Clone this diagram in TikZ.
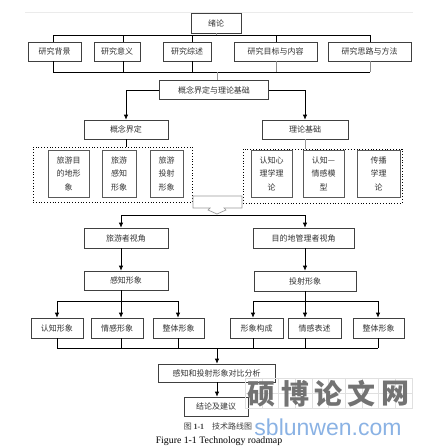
\documentclass[tikz,border=0pt]{standalone}
\usepackage{fontspec}
\setmainfont{Liberation Serif}
\newfontfamily\cjk{Noto Sans CJK SC}
\newfontfamily\wmsans{Liberation Sans}
\usetikzlibrary{arrows.meta}
\definecolor{wmblue}{RGB}{138,178,228}
\begin{document}
\begin{tikzpicture}[x=1pt,y=-1pt]
  \tikzstyle{box}=[draw=black!75,line width=0.7pt,inner sep=0pt,minimum height=19,text=black!80,font=\cjk\fontsize{8}{10}\selectfont]
  \tikzstyle{inbox}=[box,draw=black!65,align=center,minimum height=47,font=\cjk\fontsize{8}{13.5}\selectfont]
  \tikzstyle{frame}=[draw,dotted,thick,inner sep=0pt]
  \tikzstyle{line}=[draw,line width=0.7pt]
  \tikzstyle{faint}=[draw=black!40]
  \tikzstyle{arr}=[line,-{Latex[length=5pt,width=4.5pt]}]
  \useasboundingbox (0,0) rectangle (430,448);
  \draw[black!8,line width=1pt] (25,12) -- (413,12);

  % top part
  \node[box,minimum width=50,minimum height=20] (xl) at (216,23) {绪论};
  \node[box,minimum width=53] (bj) at (54.5,51.5) {研究背景};
  \node[box,minimum width=46] (yy) at (117,51.5) {研究意义};
  \node[box,minimum width=48] (zs) at (187,51.5) {研究综述};
  \node[box,minimum width=83] (mb) at (275.5,51.5) {研究目标与内容};
  \node[box,minimum width=83] (sl) at (369.5,51.5) {研究思路与方法};
  \node[box,minimum width=109] (gl) at (214,90) {概念界定与理论基础};
  \node[box,minimum width=84] (gn) at (126,129.5) {概念界定};
  \node[box,minimum width=86] (ll) at (305,129.5) {理论基础};

  % dotted groups
  \node[frame,minimum width=159,minimum height=55] (dl) at (112.5,174.5) {};
  \node[frame,minimum width=159,minimum height=54] (dr) at (322.5,176) {};
  \node[inbox,minimum width=41] (t1) at (68.5,173.5) {旅游目\\的地形\\象};
  \node[inbox,minimum width=34] (t2) at (119,173.5) {旅游\\感知\\形象};
  \node[inbox,minimum width=33] (t3) at (166.5,173.5) {旅游\\投射\\形象};
  \node[inbox,minimum width=41] (r1) at (271.5,173.5) {认知心\\理学理\\论};
  \node[inbox,minimum width=41] (r2) at (323.5,173.5) {认知—\\情感模\\型};
  \node[inbox,minimum width=43] (r3) at (378.5,173.5) {传播\\学理\\论};

  % two views
  \node[box,minimum width=84,minimum height=20] (lv) at (126,238) {旅游者视角};
  \node[box,minimum width=101,minimum height=20] (mv) at (303.5,238) {目的地管理者视角};
  \node[box,minimum width=84] (gz) at (126,280.5) {感知形象};
  \node[box,minimum width=102,minimum height=20] (ts) at (305,281) {投射形象};
  \node[box,minimum width=52,minimum height=20] (rz) at (57,328) {认知形象};
  \node[box,minimum width=52,minimum height=20] (qg) at (117,328) {情感形象};
  \node[box,minimum width=51,minimum height=20] (zt) at (178.5,328) {整体形象};
  \node[box,minimum width=53,minimum height=20] (gc) at (256.5,328) {形象构成};
  \node[box,minimum width=53,minimum height=20] (bs) at (314.5,328) {情感表述};
  \node[box,minimum width=51,minimum height=20] (zx) at (378.5,328) {整体形象};
  \node[box,minimum width=117,minimum height=18] (db) at (216.5,373) {感知和投射形象对比分析};
  \node[box,minimum width=64] (jl) at (216,406.5) {结论及建议};

  % connectors, top
  \coordinate (hub) at (216,35);
  \draw[line,faint] (xl) -- (hub);
  \foreach \n/\x/\c in {bj/53/black,yy/123/black,zs/192/black,mb/276/black!45,sl/370/black!45}{
    \coordinate (u\n) at (\x,35);
    \coordinate (d\n) at (\x,72);
    \draw[line] (u\n) -- (u\n |- \n.north);
    \draw[line,draw=\c] (\n.south -| d\n) -- (d\n);
  }
  \draw[line] (ubj) -- (usl);
  \draw[line] (dbj) -- (dsl);
  \coordinate (mid) at (217,72);
  \draw[line,faint] (mid) -- (mid |- gl.north);
  \draw[arr] (gl.west) -| (gn.north);
  \draw[arr] (gl.east) -| (ll.north);
  \draw[line] (gn.south) -- (gn.south |- dl.north);
  \draw[line,faint] (ll.south) -- (ll.south |- dr.north);

  % block arrow
  \draw[faint,line width=0.7pt,fill=white] (193,196) -- (193,208) -- (210,208) -- (208,210)
    -- (217,214) -- (226,210) -- (224,208) -- (242,208) -- (242,196) -- cycle;
  \coordinate (tip) at (217,215);
  \coordinate (vl) at (121,215);
  \coordinate (vr) at (305,215);
  \draw[line] (vl) -- (vr);
  \draw[arr] (vl) -- (vl |- lv.north);
  \draw[arr] (vr) -- (vr |- mv.north);
  \draw[arr] (lv.south -| vl) -- (gz.north -| vl);
  \draw[arr] (mv.south -| vr) -- (ts.north -| vr);

  % connectors, bottom
  \coordinate (pl) at (121,301);
  \coordinate (pr) at (305,301);
  \draw[line] (gz.south -| pl) -- (pl);
  \draw[line] (ts.south -| pr) -- (pr);
  \foreach \n/\x in {rz/57,qg/121,zt/178,gc/253,bs/305,zx/378}{
    \coordinate (u\n) at (\x,301);
    \coordinate (d\n) at (\x,348);
    \draw[arr] (u\n) -- (u\n |- \n.north);
    \draw[line] (\n.south -| d\n) -- (d\n);
  }
  \draw[line] (urz) -- (uzt);
  \draw[line] (ugc) -- (uzx);
  \draw[line] (drz) -- (dzx);
  \coordinate (low) at (217,348);
  \draw[arr] (low) -- (low |- db.north);
  \draw[arr] (db.south -| low) -- (jl.north -| low);

  % caption
  \node[text=black!75,font=\cjk\fontsize{8}{10}\selectfont] (cap) at (218,426) {图 {\rmfamily\bfseries 1-1}\quad 技术路线图};
  \node[font=\fontsize{9.8}{11}\selectfont] (capen) at (219,441) {Figure 1-1 Technology roadmap};

  % watermark
  \foreach \i/\c in {0/硕,1/博,2/论,3/文,4/网}{
    \draw[black!12] (245+33.4*\i,378) rectangle +(33.4,30);
    \draw[black!12] (261.7+33.4*\i,378) -- +(0,30);
    \draw[black!12] (245+33.4*\i,393) -- +(33.4,0);
    \node[text=black!55,font=\cjk\bfseries\fontsize{28}{28}\selectfont] (w\i) at (261.7+33.4*\i,394) {\c};
  }
  \node[text=wmblue,font=\wmsans\fontsize{23}{23}\selectfont] (site) at (328,427) {sblunwen.com};
\end{tikzpicture}
\end{document}
